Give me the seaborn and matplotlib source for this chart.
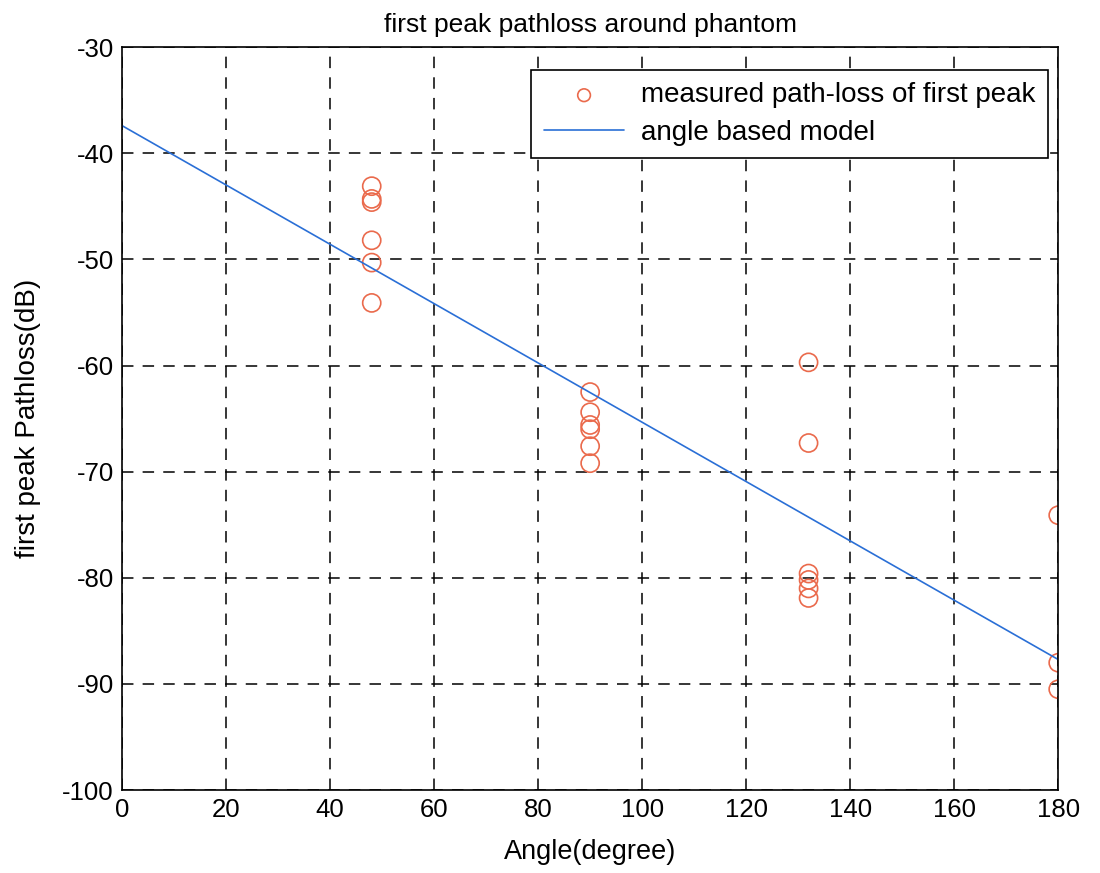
import numpy as np
import pandas as pd
import seaborn as sns
import matplotlib
matplotlib.use("Agg")
import matplotlib.pyplot as plt

# measured first peak path-loss
angles = [48, 48, 48, 48, 48, 48,
          90, 90, 90, 90, 90, 90,
          132, 132, 132, 132, 132, 132,
          180, 180, 180]
pathloss = [-43.1, -44.3, -44.6, -48.2, -50.3, -54.1,
            -62.5, -64.4, -65.6, -66.0, -67.6, -69.2,
            -59.7, -67.3, -79.6, -80.2, -81.0, -81.9,
            -74.1, -88.0, -90.5]

# angle based model line
model_angle = [0, 180]
model_loss = [-37.4, -87.7]

MARKER_COLOUR = '#ea6a4c'
LINE_COLOUR = '#2a6fd6'

sns.set_style("white")
plt.rcParams['font.family'] = ['Liberation Sans', 'DejaVu Sans']
plt.rcParams['axes.unicode_minus'] = False
plt.rcParams['text.color'] = 'black'
plt.rcParams['axes.labelcolor'] = 'black'
plt.rcParams['xtick.color'] = 'black'
plt.rcParams['ytick.color'] = 'black'

df_meas = pd.DataFrame({'Angle': angles, 'Loss': pathloss})
df_model = pd.DataFrame({'Angle': model_angle, 'Loss': model_loss})

fig = plt.figure(figsize=(11, 8.73), dpi=100)
ax = fig.add_axes([0.111, 0.095, 0.851, 0.851])

sns.scatterplot(x='Angle', y='Loss', data=df_meas, ax=ax,
                marker='o', s=170, facecolors='none', edgecolor=MARKER_COLOUR,
                linewidth=1.2, label='measured path-loss of first peak')
sns.lineplot(x='Angle', y='Loss', data=df_model, ax=ax,
             color=LINE_COLOUR, linewidth=1.2, label='angle based model')

ax.set_xlim(0, 180)
ax.set_ylim(-100, -30)
ax.set_xticks(range(0, 181, 20))
ax.set_yticks(range(-100, -29, 10))
ax.grid(True, color='black', linestyle=(0, (7.5, 6)), linewidth=1.1)
ax.tick_params(direction='in', length=6, labelsize=18.5, pad=6)
for sp in ax.spines.values():
    sp.set_color('black')
    sp.set_linewidth(1.2)

ax.set_xlabel('Angle(degree)', fontsize=19.5, labelpad=12)
ax.set_ylabel('first peak Pathloss(dB)', fontsize=20, labelpad=15)
ax.set_title('first peak pathloss around phantom', fontsize=19, pad=11)

leg = ax.legend(loc='upper right', bbox_to_anchor=(1048 / 1100, 1 - 70 / 873),
                bbox_transform=fig.transFigure, borderaxespad=0,
                fontsize=20, frameon=True, fancybox=False, framealpha=1,
                edgecolor='black', handlelength=2.9, borderpad=0.45,
                labelspacing=0.4, handletextpad=0.6, markerscale=0.7)
leg.get_frame().set_linewidth(1.2)

plt.savefig('out.png', dpi=100)
